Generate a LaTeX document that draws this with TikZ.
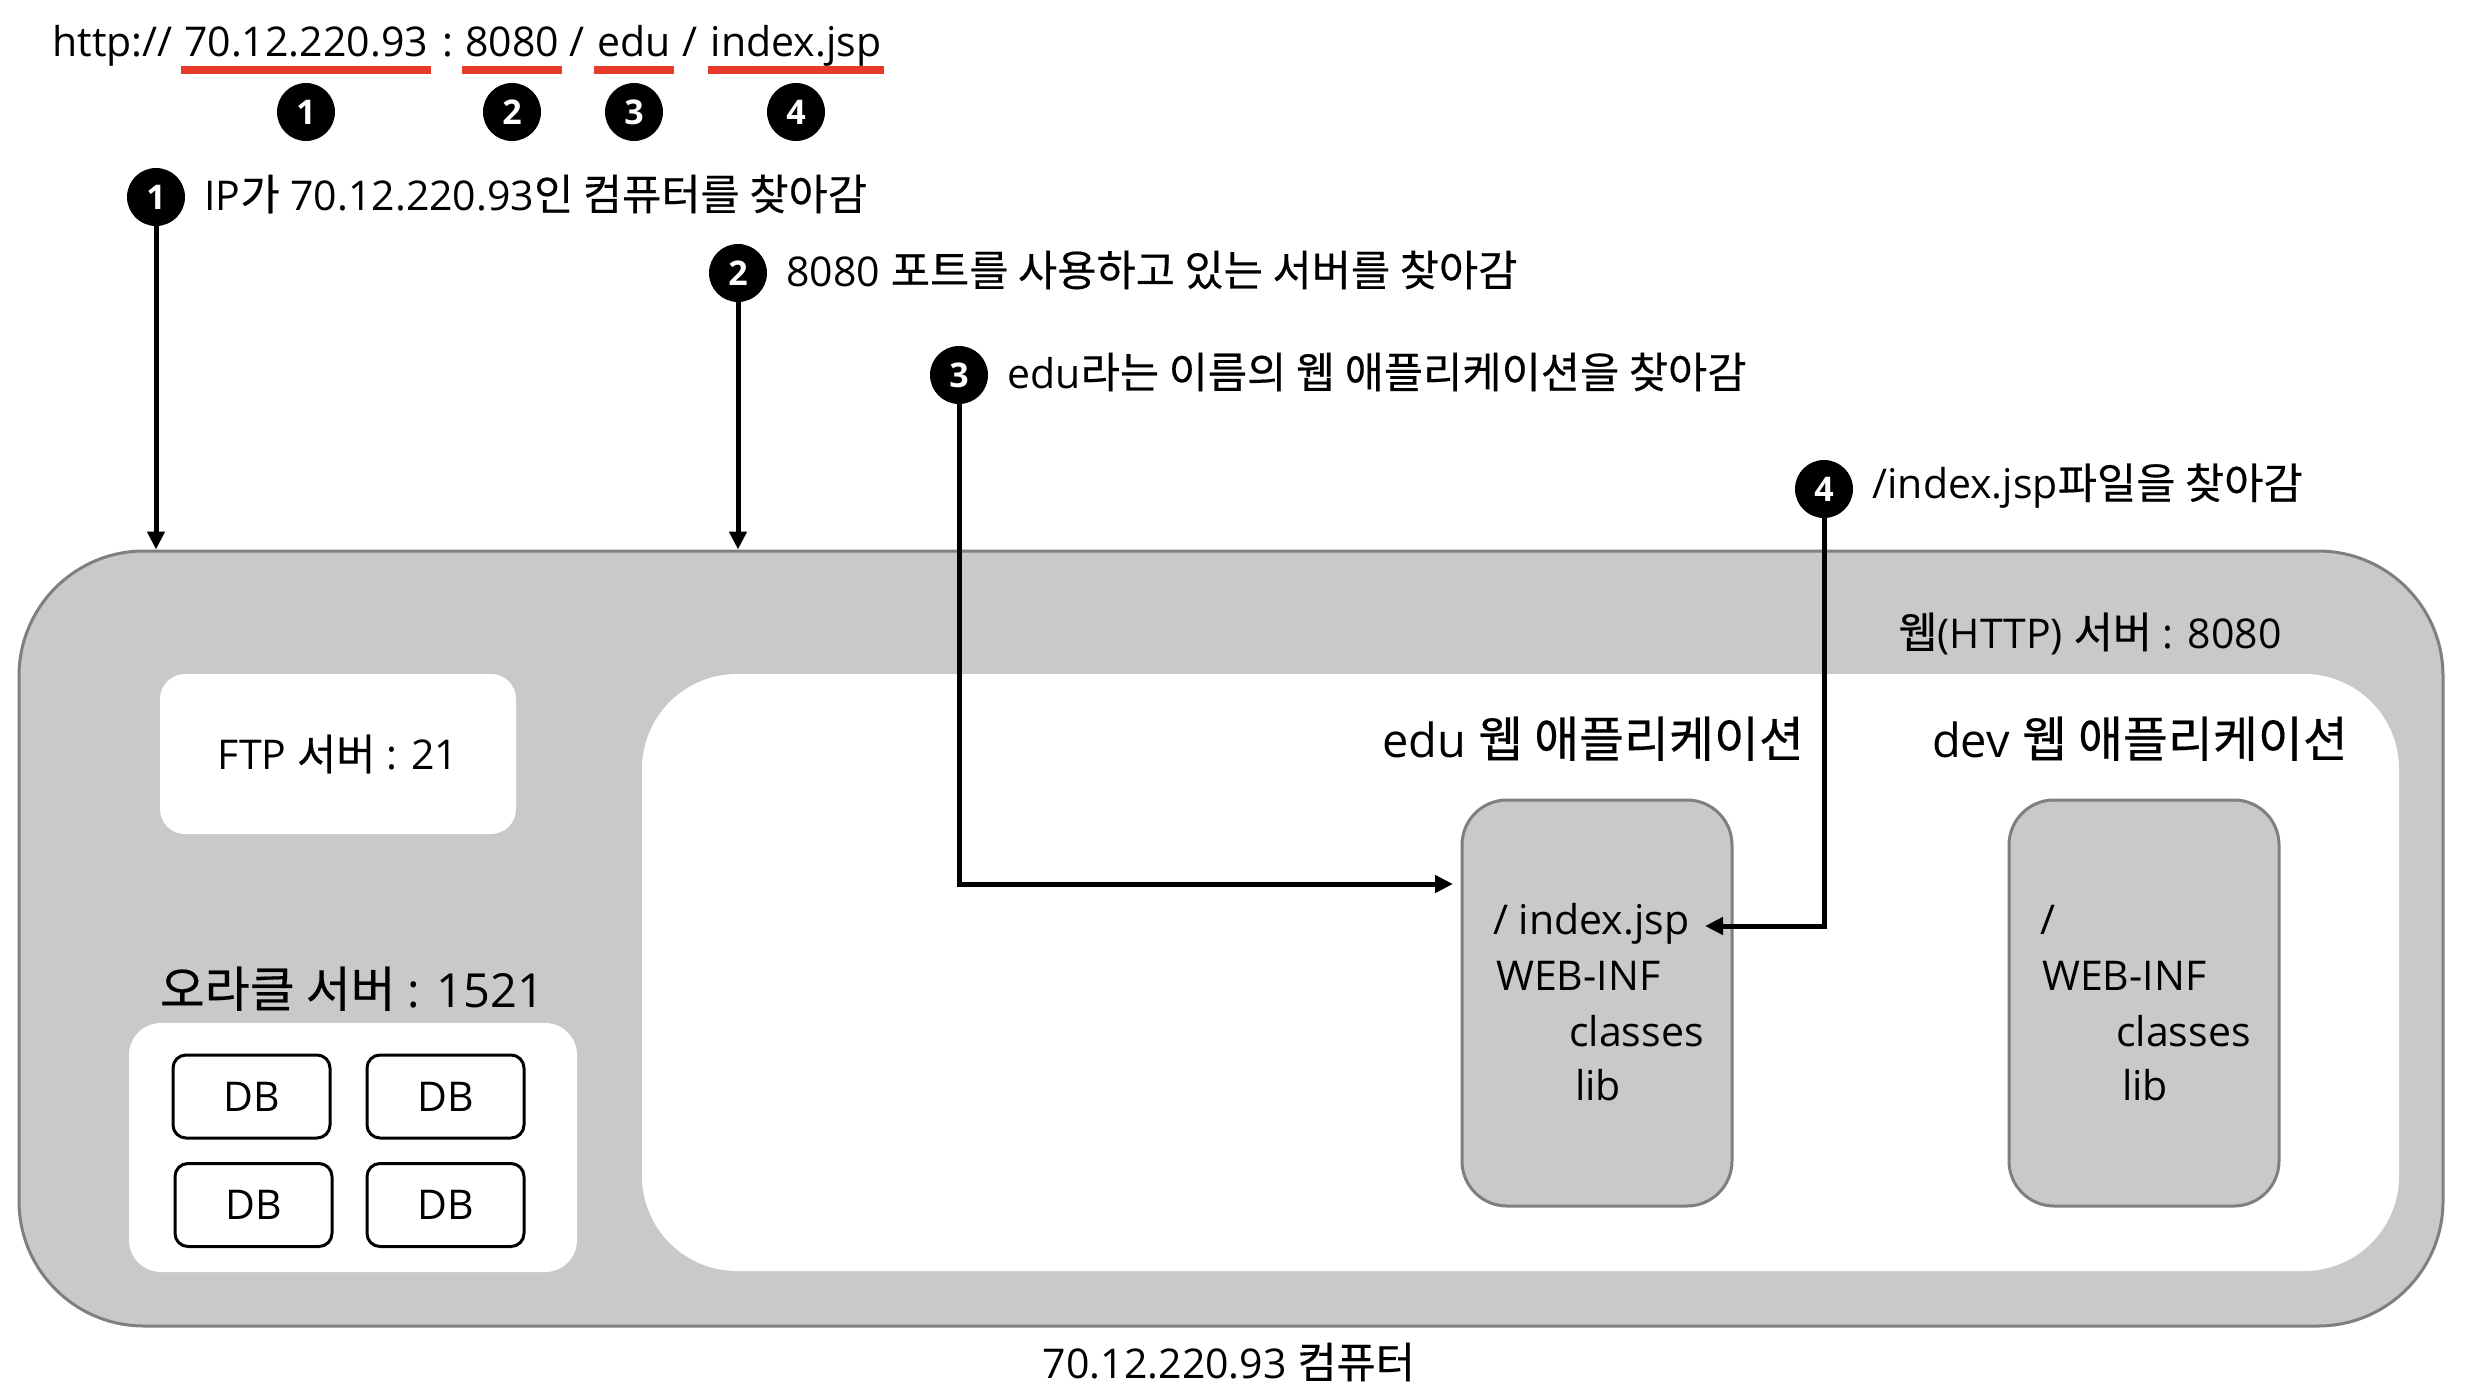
\documentclass[tikz,border=0pt]{standalone}
\usepackage{fontspec}
\setmainfont{Open Sans}
\newfontfamily\kr[Scale=1.04,FakeBold=0.4]{Noto Sans CJK KR}
\usetikzlibrary{arrows.meta,calc}
\definecolor{boxgray}{HTML}{C9C9C9}
\definecolor{edgegray}{HTML}{7F7F7F}
\definecolor{urlred}{HTML}{E8392A}
\newcommand\myfs{\fontsize{41pt}{48pt}\selectfont}
\newcommand\mybigfs{\fontsize{47pt}{54pt}\selectfont}
\newcommand\mybfs{\fontsize{34pt}{40pt}\selectfont\bfseries}
\begin{document}
\begin{tikzpicture}[x=1pt,y=-1pt,
  txt/.style={inner sep=0pt, font=\myfs},
  bigtxt/.style={inner sep=0pt, font=\mybigfs},
  bullet/.style={circle, fill=black, text=white, minimum size=58pt, inner sep=0pt, font=\mybfs},
  steptxt/.style={inner sep=0pt, font=\myfs, anchor=west, xshift=19pt, yshift=3pt},
  conn/.style={line width=5pt, -{Triangle[length=18pt,width=17pt]}},
  graybox/.style={draw=edgegray, fill=boxgray, line width=3pt},
  whitebox/.style={fill=white},
  dbbox/.style={draw=black, fill=white, line width=3pt, rounded corners=13pt, minimum width=157pt, minimum height=83pt, inner sep=0pt, font=\myfs},
  redline/.style={draw=urlred, line width=8pt}
]
\useasboundingbox (0,0) rectangle (2466,1392);

% ---- boxes ----
\node[graybox, rounded corners=125pt, minimum width=2424pt, minimum height=775pt] (outer) at (1231,938.5) {};
\node[whitebox, rounded corners=95pt, minimum width=1757pt, minimum height=597pt] (web) at (1520.5,972.5) {};
\node[whitebox, rounded corners=25pt, minimum width=356pt, minimum height=160pt, inner sep=0pt, font=\myfs] (ftp) at (338,754) {FTP {\kr 서버} : 21};
\node[whitebox, rounded corners=32pt, minimum width=448pt, minimum height=249pt] (ora) at (353,1147.5) {};
\node[dbbox] (db1) at (251.5,1096.5) {DB};
\node[dbbox] (db2) at (445.5,1096.5) {DB};
\node[dbbox] (db3) at (253.5,1205) {DB};
\node[dbbox] (db4) at (445.5,1205) {DB};
\node[graybox, rounded corners=45pt, minimum width=270pt, minimum height=406pt] (edu) at (1597,1003) {};
\node[graybox, rounded corners=45pt, minimum width=270pt, minimum height=406pt] (dev) at (2144,1003) {};

% ---- box labels ----
\node[txt, anchor=base] (weblbl) at (2090,648) {{\kr 웹}(HTTP) {\kr 서버} : 8080};
\node[bigtxt, anchor=base] (edulbl) at (1593,757) {edu {\kr 웹 애플리케이션}};
\node[bigtxt, anchor=base] (devlbl) at (2140,757) {dev {\kr 웹 애플리케이션}};
\node[bigtxt, anchor=base] (oralbl) at (352,1007) {{\kr 오라클 서버} : 1521};
\node[txt, anchor=base] (pclbl) at (1229,1378) {70.12.220.93 {\kr 컴퓨터}};

\node[txt, anchor=base west] (idx) at (1493,934) {/ index.jsp};
\node[txt, anchor=base west] (eweb) at (1496,990) {WEB-INF};
\node[txt, anchor=base west] (ecls) at (1569,1046) {classes};
\node[txt, anchor=base west] (elib) at (1575,1100) {lib};
\node[txt, anchor=base west] (droot) at (2040,934) {/};
\node[txt, anchor=base west] (dweb) at (2042,990) {WEB-INF};
\node[txt, anchor=base west] (dcls) at (2116,1046) {classes};
\node[txt, anchor=base west] (dlib) at (2122,1100) {lib};

% ---- URL ----
\node[txt, anchor=base east] (u0) at (173,56) {http://};
\node[txt, anchor=base] (uip) at (306,56) {70.12.220.93};
\node[txt, anchor=base] (uc) at (448,56) {:};
\node[txt, anchor=base] (uport) at (512,56) {8080};
\node[txt, anchor=base] (us1) at (577,56) {/};
\node[txt, anchor=base] (uedu) at (634,56) {edu};
\node[txt, anchor=base] (us2) at (690,56) {/};
\node[txt, anchor=base] (uidx) at (796,56) {index.jsp};
\foreach \n in {uip,uport,uedu,uidx}{
  \draw[redline] ($(\n.base west)+(-3,14)$) -- ($(\n.base east)+(3,14)$);
}
\node[bullet] (n1) at (306,112) {1};
\node[bullet] (n2) at (512,112) {2};
\node[bullet] (n3) at (634,112) {3};
\node[bullet] (n4) at (796,112) {4};

% ---- numbered steps ----
\node[bullet] (b1) at (156,197) {1};
\node[bullet] (b2) at (738,273) {2};
\node[bullet] (b3) at (959,375) {3};
\node[bullet] (b4) at (1824,489) {4};
\node[steptxt] (l1) at (b1.east) {IP{\kr 가} 70.12.220.93{\kr 인 컴퓨터를 찾아감}};
\node[steptxt] (l2) at (b2.east) {8080 {\kr 포트를 사용하고 있는 서버를 찾아감}};
\node[steptxt] (l3) at (b3.east) {edu{\kr 라는 이름의 웹 애플리케이션을 찾아감}};
\node[steptxt] (l4) at (b4.east) {/index.jsp{\kr 파일을 찾아감}};

% ---- connectors ----
\coordinate (a3) at (1453,884);
\coordinate (a4) at (1705,926);
\draw[conn] (b1.south) -- (b1.south |- outer.north);
\draw[conn] (b2.south) -- (b2.south |- outer.north);
\draw[conn] (b3.south) |- (a3);
\draw[conn] (b4.south) |- (a4);
\end{tikzpicture}
\end{document}
